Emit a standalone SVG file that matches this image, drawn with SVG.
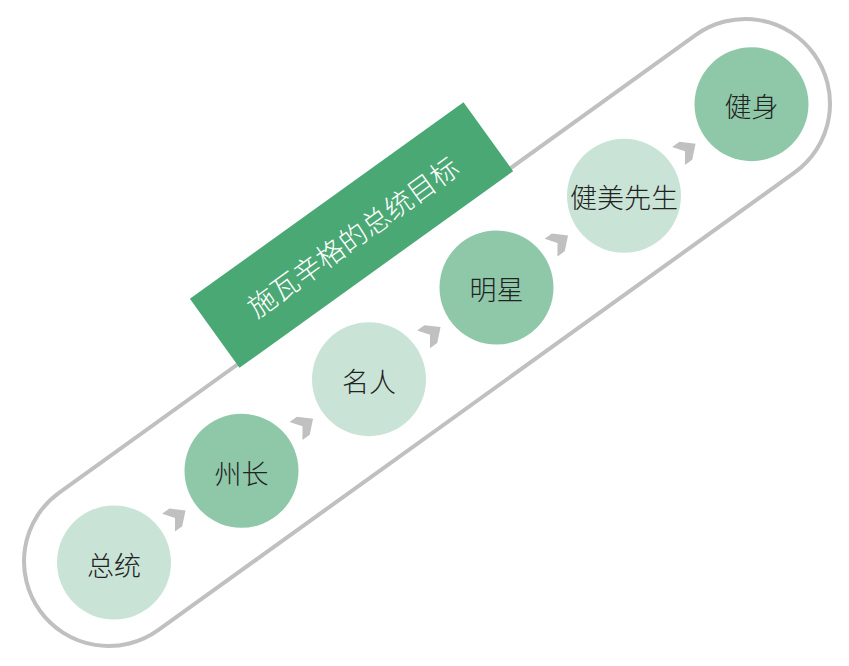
<svg xmlns="http://www.w3.org/2000/svg" width="849" height="666" viewBox="0 0 849 666">
<defs>
<style>
.node-light{fill:#c9e4d6}
.node-dark{fill:#8fc8a9}
.lbl{font-family:"Noto Sans CJK SC","Noto Sans",sans-serif;font-size:27px;fill:#222;text-anchor:middle;dominant-baseline:central;font-weight:300}
.chev{fill:#c0c0c0}
.banner-t{font-family:"Noto Sans CJK SC","Noto Sans",sans-serif;font-size:28px;fill:#fff;text-anchor:middle;dominant-baseline:central;font-weight:300}
</style>
<path id="chevShape" d="M-8,-11 H1 L13,0 L1,11 H-8 L0,0 Z"/>
</defs>
<rect width="849" height="666" fill="#fff"/>
<g id="capsule">
<rect x="-476.7" y="-84.7" width="953.4" height="169.4" rx="84.7" transform="translate(427,332.5) rotate(-35.71)" fill="none" stroke="#c0c0c0" stroke-width="4"/>
</g>
<g id="banner" transform="translate(351.5,235) rotate(-35.71)">
<rect x="-168.5" y="-42.5" width="337" height="85" fill="#4aa874"/>
<text class="banner-t" x="0" y="1">施瓦辛格的总统目标</text>
</g>
<g id="connectors">
<use href="#chevShape" class="chev" transform="translate(175,518) rotate(-35.71)"/>
<use href="#chevShape" class="chev" transform="translate(302.5,426.3) rotate(-35.71)"/>
<use href="#chevShape" class="chev" transform="translate(430,334.7) rotate(-35.71)"/>
<use href="#chevShape" class="chev" transform="translate(557.5,243) rotate(-35.71)"/>
<use href="#chevShape" class="chev" transform="translate(685,151.3) rotate(-35.71)"/>
</g>
<g id="n1"><circle class="node-light" cx="114" cy="562.5" r="57"/><text class="lbl" x="114" y="564">总统</text></g>
<g id="n2"><circle class="node-dark" cx="241.5" cy="470.8" r="57"/><text class="lbl" x="241.5" y="472">州长</text></g>
<g id="n3"><circle class="node-light" cx="369" cy="379.2" r="57"/><text class="lbl" x="369" y="380.5">名人</text></g>
<g id="n4"><circle class="node-dark" cx="496.5" cy="287.5" r="57"/><text class="lbl" x="496.5" y="288.5">明星</text></g>
<g id="n5"><circle class="node-light" cx="624" cy="195.8" r="57"/><text class="lbl" x="624" y="196.5">健美先生</text></g>
<g id="n6"><circle class="node-dark" cx="751.5" cy="104.2" r="57"/><text class="lbl" x="751.5" y="105">健身</text></g>
</svg>
